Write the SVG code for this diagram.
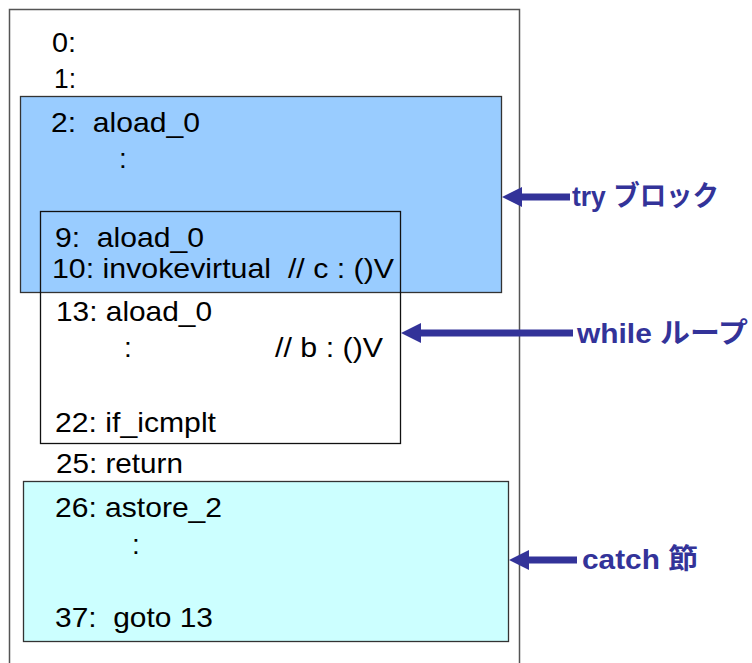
<svg xmlns="http://www.w3.org/2000/svg" width="752" height="663" viewBox="0 0 752 663" xml:space="preserve">
  <style>
    .code { font-family: "Liberation Sans", Arial, sans-serif; font-size: 28px; fill: #000; white-space: pre; }
    .label { font-family: "Liberation Sans", "Noto Sans CJK JP", sans-serif; font-size: 28px; font-weight: bold; fill: #333399; white-space: pre; }
    .frame { stroke: #555; stroke-width: 1.5; fill: none; }
    .conn { stroke: #333399; stroke-width: 7; fill: none; }
  </style>
  <defs>
    <marker id="head" markerUnits="userSpaceOnUse" markerWidth="20" markerHeight="20" refX="0" refY="10" orient="auto">
      <path d="M0,0 L20,10 L0,20 Z" fill="#333399"/>
    </marker>
  </defs>
  <rect width="752" height="663" fill="#fff"/>

  <!-- method body -->
  <g id="method">
    <path class="frame" d="M9.5,663 V9.5 H519.5 V663"/>
    <text class="code" x="52" y="52" textLength="24" lengthAdjust="spacingAndGlyphs">0:</text>
    <text class="code" x="54" y="88" textLength="22" lengthAdjust="spacingAndGlyphs">1:</text>
    <text class="code" x="56" y="473" textLength="127" lengthAdjust="spacingAndGlyphs">25: return</text>
  </g>

  <!-- try block -->
  <g id="try">
    <rect x="20.5" y="96.5" width="481" height="196" fill="#99CCFF" stroke="#333" stroke-width="1.3"/>
    <text class="code" x="51" y="132" textLength="149" lengthAdjust="spacingAndGlyphs">2:  aload_0</text>
    <text class="code" x="119" y="168">:</text>
  </g>

  <!-- while loop -->
  <g id="while">
    <rect x="40.5" y="211.5" width="360" height="232" fill="none" stroke="#111" stroke-width="1.3"/>
    <text class="code" x="55" y="247" textLength="149" lengthAdjust="spacingAndGlyphs">9:  aload_0</text>
    <text class="code" x="52" y="278" textLength="342" lengthAdjust="spacingAndGlyphs">10: invokevirtual  // c : ()V</text>
    <text class="code" x="56" y="321" textLength="156" lengthAdjust="spacingAndGlyphs">13: aload_0</text>
    <text class="code" x="124" y="357">:</text>
    <text class="code" x="275" y="357" textLength="108" lengthAdjust="spacingAndGlyphs">// b : ()V</text>
    <text class="code" x="55" y="432" textLength="161" lengthAdjust="spacingAndGlyphs">22: if_icmplt</text>
  </g>

  <!-- catch clause -->
  <g id="catch">
    <rect x="23.5" y="481.5" width="485" height="160" fill="#CCFFFF" stroke="#333" stroke-width="1.3"/>
    <text class="code" x="55" y="517" textLength="167" lengthAdjust="spacingAndGlyphs">26: astore_2</text>
    <text class="code" x="132" y="554">:</text>
    <text class="code" x="55" y="627" textLength="158" lengthAdjust="spacingAndGlyphs">37:  goto 13</text>
  </g>

  <!-- connectors -->
  <g id="connectors">
    <line class="conn" x1="570" y1="197" x2="522" y2="197" marker-end="url(#head)"/>
    <line class="conn" x1="573" y1="333" x2="421" y2="333" marker-end="url(#head)"/>
    <line class="conn" x1="577" y1="560" x2="529" y2="560" marker-end="url(#head)"/>
  </g>

  <!-- annotations -->
  <g id="labels">
    <text class="label" x="572" y="206" textLength="147" lengthAdjust="spacingAndGlyphs">try ブロック</text>
    <text class="label" x="577" y="343" textLength="171" lengthAdjust="spacingAndGlyphs">while ループ</text>
    <text class="label" x="582" y="569" textLength="116" lengthAdjust="spacingAndGlyphs">catch 節</text>
  </g>
</svg>
